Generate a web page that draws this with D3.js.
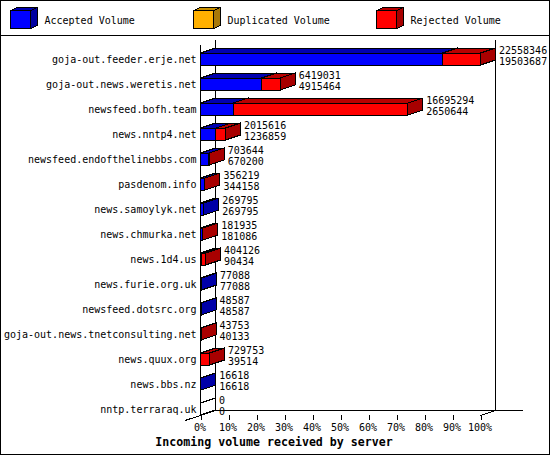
<!DOCTYPE html>
<html>
<head>
<meta charset="utf-8">
<script src="https://cdn.jsdelivr.net/npm/d3@7/dist/d3.min.js"></script>
<style>
html,body{margin:0;padding:0;background:#fff;}
svg{display:block;}
text{font-family:"DejaVu Sans Mono",monospace;font-size:10px;fill:#000;font-kerning:none;}
.title{font-weight:bold;font-size:11.6px;}
polygon,rect,path,line{shape-rendering:crispEdges;}
</style>
</head>
<body>
<svg id="c" width="550" height="455"></svg>
<script>
const categories=["goja-out.feeder.erje.net","goja-out.news.weretis.net","newsfeed.bofh.team","news.nntp4.net","newsfeed.endofthelinebbs.com","pasdenom.info","news.samoylyk.net","news.chmurka.net","news.1d4.us","news.furie.org.uk","newsfeed.dotsrc.org","goja-out.news.tnetconsulting.net","news.quux.org","news.bbs.nz","nntp.terraraq.uk"];
const totals=[22558346,6419031,16695294,2015616,703644,356219,269795,181935,404126,77088,48587,43753,729753,16618,0];
const accepted=[19503687,4915464,2650644,1236859,670200,344158,269795,181086,90434,77088,48587,40133,39514,16618,0];
const legendNames=["Accepted Volume","Duplicated Volume","Rejected Volume"];
const legendFront=["#0000ff","#ffb000","#ff0000"];
const legendSide=["#0000a0","#a87808","#a80000"];
const legendTop=["#0000b0","#c89000","#b80000"];
const percentTicks=[0,10,20,30,40,50,60,70,80,90,100];
const axisTitle="Incoming volume received by server";

const svg=d3.select("#c");
const root=svg.append("g");
const X0=200.5,X1=480.5,DX=15,DY=5,H=6;
const xVal=d3.scaleLinear().domain([0,d3.max(totals)]).range([X0,X1]);
const xPct=d3.scaleLinear().domain([0,100]).range([X0,X1]);
const y=d3.scaleBand().domain(categories).range([46.5,421.5]).padding(0);

root.append("rect").attr("x",.5).attr("y",.5).attr("width",549).attr("height",454).attr("fill","#fff").attr("stroke","#000");
function line(x1,y1,x2,y2){
  return root.append("line").attr("x1",x1).attr("y1",y1).attr("x2",x2).attr("y2",y2).attr("stroke","#000");
}
line(0,35.5,550,35.5);

function box(x0,x1,yt,yb,dx,dy,front,side,top){
  const p=a=>a.map(d=>d.join(",")).join(" ");
  root.append("polygon").attr("points",p([[x0,yt],[x0+dx,yt-dy],[x1+dx,yt-dy],[x1,yt]])).attr("fill",top).attr("stroke","#000");
  root.append("polygon").attr("points",p([[x1,yt],[x1+dx,yt-dy],[x1+dx,yb-dy],[x1,yb]])).attr("fill",side).attr("stroke","#000");
  root.append("rect").attr("x",x0).attr("y",yt).attr("width",x1-x0).attr("height",yb-yt).attr("fill",front).attr("stroke","#000");
}

const lx=[10.5,193.5,376.5],ltx=[44.5,227.5,410.5];
legendNames.forEach((n,i)=>{
  box(lx[i],lx[i]+20,10.5,28.5,7,3,legendFront[i],legendSide[i],legendTop[i]);
  root.append("text").attr("x",ltx[i]).attr("y",24).text(n);
});

line(X0,45,X0,415);
line(X0+DX,40,X0+DX,410);
line(X1+DX,40,X1+DX,410);
line(X0+DX,410.5,523,410.5);
line(185,420.5,X0+DX,410.5);
line(X1,415.5,X1+DX,410.5);

const ax=root.append("g").attr("transform","translate(0,415)")
  .call(d3.axisBottom(xPct).tickValues(percentTicks).tickSize(5).tickPadding(4).tickFormat(d=>d+"%"));
ax.select(".domain").remove();
ax.selectAll("line").attr("stroke","#000");
ax.selectAll("text").attr("dx",-1);
ax.attr("font-family",null).attr("font-size",null);

const ay=root.append("g").attr("transform","translate(196.6,1)")
  .call(d3.axisLeft(y).tickSize(0).tickPadding(0));
ay.select(".domain").remove();
ay.attr("font-family",null).attr("font-size",null);

categories.forEach((c,i)=>{
  const cy=y(c)+y.bandwidth()/2;
  const yt=cy-H,yb=cy+H;
  const t=totals[i],a=accepted[i];
  if(t===0){
    root.append("path").attr("d",`M${X0},${yt}L${X0+DX},${yt-DY}M${X0},${yb}L${X0+DX},${yb-DY}`).attr("stroke","#000").attr("fill","none");
  }else{
    box(X0,xVal(a),yt,yb,DX,DY,"#0000ff","#0000a8","#0000b0");
    if(t>a) box(xVal(a),xVal(t),yt,yb,DX,DY,"#ff0000","#a80000","#b80000");
  }
  const lxv=xVal(t)+DX+3.5;
  root.append("text").attr("x",lxv).attr("y",cy-5).text(t);
  root.append("text").attr("x",lxv).attr("y",cy+6).text(a);
});

root.append("text").attr("class","title").attr("x",274).attr("y",446).attr("text-anchor","middle").text(axisTitle);
</script>
</body>
</html>
